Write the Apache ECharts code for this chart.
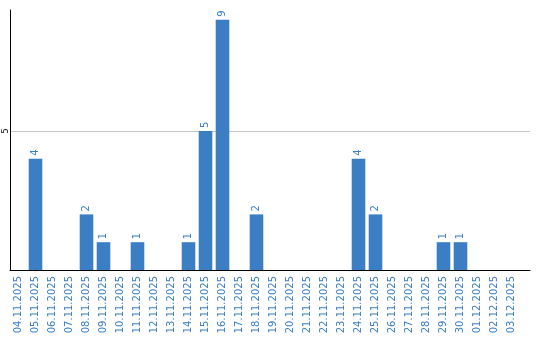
<!DOCTYPE html>
<html><head><meta charset="utf-8">
<script src="https://cdn.jsdelivr.net/npm/echarts@6/dist/echarts.min.js"></script>
<style>html,body{margin:0;padding:0;background:#fff}#c{width:540px;height:340px}</style>
</head><body><div id="c"></div>
<script>
const categories = ['04.11.2025','05.11.2025','06.11.2025','07.11.2025','08.11.2025','09.11.2025','10.11.2025','11.11.2025','12.11.2025','13.11.2025','14.11.2025','15.11.2025','16.11.2025','17.11.2025','18.11.2025','19.11.2025','20.11.2025','21.11.2025','22.11.2025','23.11.2025','24.11.2025','25.11.2025','26.11.2025','27.11.2025','28.11.2025','29.11.2025','30.11.2025','01.12.2025','02.12.2025','03.12.2025'];
const values = [0,4,0,0,2,1,0,1,0,0,1,5,9,0,2,0,0,0,0,0,4,2,0,0,0,1,1,0,0,0];
const yTicks = [5];
const yMax = 9.35;

const blue = '#3b7ec3';
const chart = echarts.init(document.getElementById('c'), null, {renderer:'canvas'});
chart.setOption({
  animation: false,
  grid: [
    {left: 10, width: 510, top: 10, bottom: 70, containLabel: false},
    {left: 10, right: 10, top: 10, bottom: 70, containLabel: false}
  ],
  xAxis: [
    {type: 'category', data: categories, gridIndex: 0,
     axisLine: {show: false}, axisTick: {show: false},
     axisLabel: {rotate: 90, color: blue, fontFamily: 'DejaVu Sans', fontSize: 10, margin: 6, interval: 0}},
    {type: 'value', gridIndex: 1, min: 0, max: 1,
     axisLine: {show: true, lineStyle: {color: '#000', width: 1}},
     axisTick: {show: false}, axisLabel: {show: false}, splitLine: {show: false}}
  ],
  yAxis: [
    {type: 'value', gridIndex: 0, min: 0, max: yMax, interval: yTicks[0],
     axisLine: {show: true, lineStyle: {color: '#000', width: 1}},
     axisTick: {show: false},
     axisLabel: {rotate: 90, color: '#000', fontFamily: 'DejaVu Sans', fontSize: 8, margin: 0,
                 showMinLabel: false, showMaxLabel: false,
                 formatter: v => yTicks.includes(v) ? String(v) : ''},
     splitLine: {show: false}},
    {type: 'value', gridIndex: 1, min: 0, max: yMax, interval: yTicks[0],
     axisLine: {show: false}, axisTick: {show: false}, axisLabel: {show: false},
     splitLine: {show: true, showMinLine: false, showMaxLine: false, lineStyle: {color: '#c8c8c8', width: 1}}}
  ],
  series: [{
    type: 'bar', xAxisIndex: 0, yAxisIndex: 0, data: values, barWidth: '80%',
    itemStyle: {color: blue}, z: 3,
    label: {show: true, position: 'top', rotate: 90, align: 'left', verticalAlign: 'middle',
            distance: 3, color: blue, fontFamily: 'DejaVu Sans', fontSize: 10,
            formatter: p => p.value ? String(p.value) : ''}
  }]
});
</script></body></html>
